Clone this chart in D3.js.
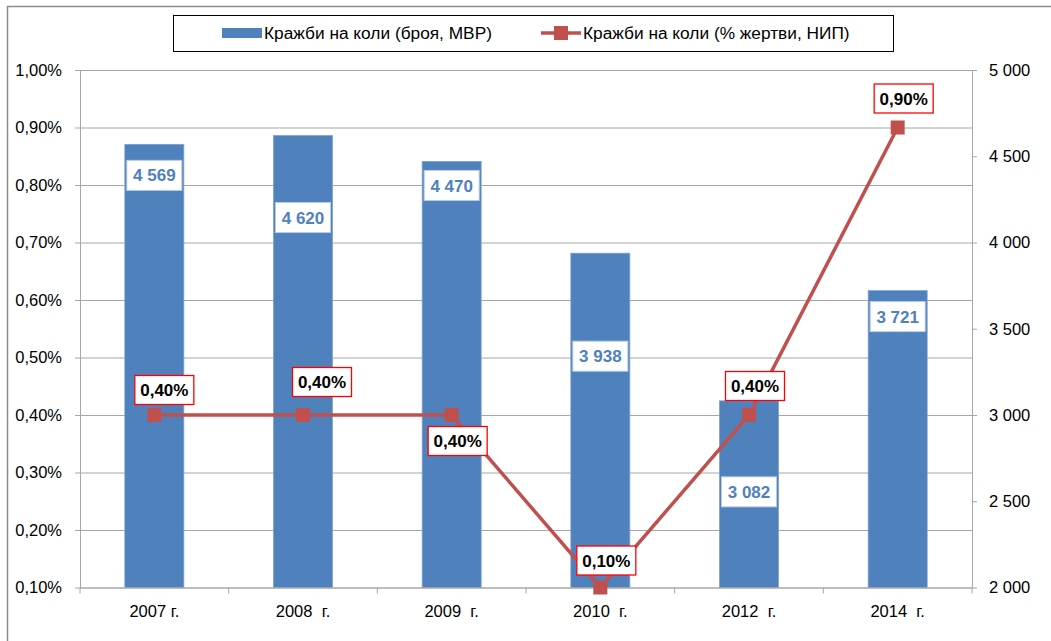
<!DOCTYPE html>
<html lang="bg">
<head>
  <meta charset="UTF-8" />
  <title>Кражби на коли</title>
  <script src="https://d3js.org/d3.v7.min.js"></script>
  <style>
    html, body {
      margin: 0;
      padding: 0;
      background: white;
      overflow: hidden;
    }
    svg text {
      font-family: "Liberation Sans Narrow", "Liberation Sans", Arial, sans-serif;
      white-space: pre;
    }
  </style>
</head>
<body>
  <svg id="chart" width="1051" height="641"></svg>

  <script>
    const categories = ["2007 г.", "2008  г.", "2009  г.", "2010  г.", "2012  г.", "2014  г."];
    const theftCounts = [4569, 4620, 4470, 3938, 3082, 3721];
    const victimShare = [0.40, 0.40, 0.40, 0.10, 0.40, 0.90];
    const leftTicks = [0.10, 0.20, 0.30, 0.40, 0.50, 0.60, 0.70, 0.80, 0.90, 1.00];
    const rightTicks = [2000, 2500, 3000, 3500, 4000, 4500, 5000];

    // hand placed label boxes, as in the original
    const barLabelDy = [31, 82, 24, 103, 91, 26];
    const lineLabelOffset = [[10, -25], [19, -33], [6, 26], [6, -27], [6, -29], [6, -29]];

    const blue = "#4F81BD";
    const red = "#C0504D";
    const grid = "#a6a6a6";

    const margin = { left: 80, right: 972, top: 70, bottom: 587.5 };
    const svg = d3.select("#chart");

    const x = d3.scaleBand().domain(categories).range([margin.left, margin.right]).paddingInner(0).paddingOuter(0);
    const yL = d3.scaleLinear().domain([0.10, 1.00]).range([margin.bottom, margin.top]);
    const yR = d3.scaleLinear().domain([2000, 5000]).range([margin.bottom, margin.top]);

    const fmtPct = d => d.toFixed(2).replace(".", ",") + "%";
    const fmtNum = d => String(d).replace(/\B(?=(\d{3})+(?!\d))/g, " ");

    // outer frame
    svg.append("rect")
      .attr("x", 7.5).attr("y", 6.5)
      .attr("width", 1200).attr("height", 800)
      .attr("fill", "white")
      .attr("stroke", "#8c8c8c")
      .attr("stroke-width", 1.5);

    // gridlines + left axis
    const gL = svg.append("g").attr("transform", `translate(${margin.left},0)`)
      .call(d3.axisLeft(yL).tickValues(leftTicks).tickFormat(fmtPct)
        .tickSize(-(margin.right - margin.left)).tickSizeOuter(0).tickPadding(18));
    gL.select(".domain").attr("stroke", grid);
    gL.selectAll(".tick line").attr("stroke", grid)
      .attr("x1", -5).attr("x2", margin.right - margin.left);
    gL.selectAll(".tick text").attr("fill", "#000").style("font-size", "16.5px");

    // right axis
    const gR = svg.append("g").attr("transform", `translate(${margin.right},0)`)
      .call(d3.axisRight(yR).tickValues(rightTicks).tickFormat(fmtNum)
        .tickSize(5).tickSizeOuter(0).tickPadding(12));
    gR.select(".domain").attr("stroke", grid);
    gR.selectAll(".tick line").attr("stroke", grid);
    gR.selectAll(".tick text").attr("fill", "#000").style("font-size", "16.5px");

    // bars
    const barW = 59;
    svg.append("g").selectAll("rect")
      .data(theftCounts)
      .join("rect")
      .attr("x", (d, i) => x(categories[i]) + x.bandwidth() / 2 - barW / 2)
      .attr("y", d => yR(d))
      .attr("width", barW)
      .attr("height", d => yR(2000) - yR(d))
      .attr("fill", blue)
      .attr("stroke", "#7ea1cf")
      .attr("stroke-width", 0.8);

    // bottom axis
    const gB = svg.append("g").attr("transform", `translate(0,${margin.bottom})`)
      .call(d3.axisBottom(x).tickSize(0).tickPadding(18));
    gB.select(".domain").attr("stroke", grid);
    gB.selectAll(".tick text").attr("fill", "#000").style("font-size", "16.5px");
    svg.append("g").selectAll("line")
      .data(d3.range(categories.length + 1))
      .join("line")
      .attr("x1", i => margin.left + i * x.bandwidth())
      .attr("x2", i => margin.left + i * x.bandwidth())
      .attr("y1", margin.bottom)
      .attr("y2", margin.bottom + 6)
      .attr("stroke", grid);

    // bar labels
    const bl = svg.append("g").selectAll("g")
      .data(theftCounts)
      .join("g")
      .attr("transform", (d, i) => `translate(${x(categories[i]) + x.bandwidth() / 2},${yR(d) + barLabelDy[i]})`);
    bl.append("rect")
      .attr("x", -27.5).attr("y", -15)
      .attr("width", 55).attr("height", 30)
      .attr("fill", "white")
      .attr("stroke", "#b9cde5")
      .attr("stroke-width", 1);
    bl.append("text")
      .attr("text-anchor", "middle")
      .attr("dy", "0.36em")
      .attr("fill", blue)
      .style("font-size", "17px")
      .style("font-weight", "bold")
      .text(d => fmtNum(d));

    // line series
    const cx = i => x(categories[i]) + x.bandwidth() / 2;
    svg.append("path")
      .datum(victimShare)
      .attr("d", d3.line().x((d, i) => cx(i)).y(d => yL(d)))
      .attr("fill", "none")
      .attr("stroke", red)
      .attr("stroke-width", 3.5);
    svg.append("g").selectAll("rect")
      .data(victimShare)
      .join("rect")
      .attr("x", (d, i) => cx(i) - 7)
      .attr("y", d => yL(d) - 7)
      .attr("width", 14).attr("height", 14)
      .attr("fill", red);

    // line labels
    const ll = svg.append("g").selectAll("g")
      .data(victimShare)
      .join("g")
      .attr("transform", (d, i) => `translate(${cx(i) + lineLabelOffset[i][0]},${yL(d) + lineLabelOffset[i][1]})`);
    ll.append("rect")
      .attr("x", -29.5).attr("y", -14.5)
      .attr("width", 59).attr("height", 29)
      .attr("fill", "white")
      .attr("stroke", "#ff0000")
      .attr("stroke-width", 1.3);
    ll.append("text")
      .attr("text-anchor", "middle")
      .attr("dy", "0.36em")
      .attr("fill", "#000")
      .style("font-size", "17px")
      .style("font-weight", "bold")
      .text(d => fmtPct(d));

    // legend
    const lg = svg.append("g");
    lg.append("rect")
      .attr("x", 173.5).attr("y", 15.5)
      .attr("width", 720).attr("height", 36)
      .attr("fill", "white")
      .attr("stroke", "#000")
      .attr("stroke-width", 1);
    lg.append("rect")
      .attr("x", 222).attr("y", 28)
      .attr("width", 40).attr("height", 10)
      .attr("fill", blue);
    lg.append("text")
      .attr("x", 264).attr("y", 33).attr("dy", "0.36em")
      .style("font-size", "17.3px")
      .text("Кражби на коли (броя, МВР)");
    lg.append("line")
      .attr("x1", 541).attr("x2", 581).attr("y1", 33).attr("y2", 33)
      .attr("stroke", red).attr("stroke-width", 3.5);
    lg.append("rect")
      .attr("x", 554).attr("y", 26)
      .attr("width", 14).attr("height", 14)
      .attr("fill", red);
    lg.append("text")
      .attr("x", 583).attr("y", 33).attr("dy", "0.36em")
      .style("font-size", "17.3px")
      .text("Кражби на коли (% жертви, НИП)");
  </script>
</body>
</html>
